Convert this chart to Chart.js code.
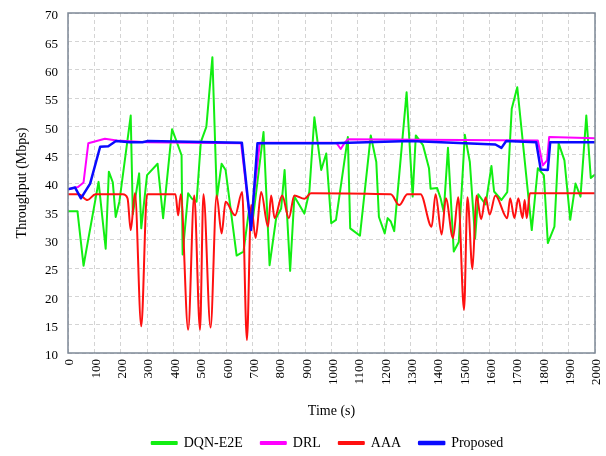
<!DOCTYPE html>
<html>
<head>
<meta charset="utf-8">
<script src="https://cdn.jsdelivr.net/npm/chart.js@4.4.1/dist/chart.umd.min.js"></script>
<style>
  html, body { margin: 0; padding: 0; background: #fff; }
  #wrap { width: 606px; height: 456px; position: relative; }
</style>
</head>
<body>
<div id="wrap"><canvas id="c" width="606" height="456"></canvas></div>
<script>
// Series names
const seriesNames = ['DQN-E2E', 'DRL', 'AAA', 'Proposed'];

// DQN-E2E (green): times (s) and throughput (Mbps)
const dqnTimes = [0, 36, 59, 116, 143, 155, 170, 181, 195, 238, 246, 270, 278, 300, 340, 361, 395, 431, 435, 456, 469, 488, 504, 525, 548, 565, 583, 598, 640, 666, 686, 700, 742, 765, 790, 809, 822, 843, 859, 897, 916, 935, 961, 980, 999, 1017, 1062, 1071, 1108, 1149, 1170, 1180, 1202, 1213, 1225, 1238, 1285, 1308, 1320, 1347, 1370, 1376, 1401, 1414, 1426, 1442, 1464, 1483, 1506, 1525, 1545, 1557, 1585, 1607, 1617, 1645, 1667, 1684, 1705, 1760, 1783, 1806, 1821, 1846, 1862, 1884, 1906, 1926, 1945, 1967, 1984, 2000];
const dqnValues = [35.0, 35.0, 25.4, 40.2, 28.4, 42.0, 40.1, 34.0, 36.7, 51.9, 34.5, 41.7, 32.0, 41.4, 43.4, 33.8, 49.5, 44.9, 27.4, 38.2, 37.3, 36.7, 47.2, 49.9, 62.2, 37.3, 43.4, 42.3, 27.2, 27.9, 34.9, 33.0, 49.0, 25.5, 33.8, 35.5, 42.3, 24.5, 37.6, 34.6, 38.5, 51.6, 42.3, 45.2, 32.9, 33.5, 48.1, 32.0, 30.7, 48.4, 43.7, 34.0, 31.1, 33.8, 33.2, 31.5, 56.0, 37.6, 48.4, 46.7, 42.6, 39.0, 39.1, 37.3, 34.9, 46.2, 27.9, 29.6, 48.5, 43.7, 30.2, 38.0, 36.2, 43.0, 38.5, 37.0, 38.4, 53.1, 56.9, 31.7, 42.6, 41.4, 29.4, 32.3, 47.0, 44.0, 33.5, 39.9, 37.6, 51.9, 40.9, 41.5];

// DRL (magenta)
const drlTimes = [0, 38, 59, 77, 140, 185, 300, 657, 693, 728, 1000, 1020, 1035, 1050, 1062, 1783, 1802, 1818, 1826, 2000];
const drlValues = [38.9, 39.3, 40.1, 47.0, 47.8, 47.5, 47.2, 47.0, 32.5, 47.1, 47.1, 47.0, 46.0, 47.1, 47.7, 47.5, 43.1, 44.0, 48.1, 47.9];

// AAA (red)
const aaaTimes = [0, 40, 74, 104, 208, 226, 238, 254, 278, 300, 408, 418, 428, 456, 479, 501, 514, 541, 564, 583, 598, 634, 661, 679, 695, 712, 733, 759, 771, 784, 813, 838, 859, 897, 922, 1225, 1257, 1288, 1338, 1380, 1395, 1418, 1434, 1461, 1481, 1503, 1516, 1535, 1550, 1568, 1585, 1600, 1622, 1667, 1678, 1694, 1709, 1725, 1733, 1741, 1753, 2000];
const aaaValues = [38.0, 38.0, 37.0, 38.0, 38.0, 37.3, 31.7, 38.2, 14.7, 38.0, 38.0, 34.3, 38.0, 14.1, 37.8, 14.1, 38.0, 14.5, 37.8, 31.1, 36.7, 34.3, 38.4, 12.3, 36.1, 30.3, 38.4, 32.3, 37.8, 33.8, 37.8, 33.8, 37.8, 37.2, 38.2, 38.0, 36.1, 38.0, 38.0, 32.3, 38.0, 30.9, 37.3, 30.3, 37.5, 17.6, 37.5, 24.8, 37.8, 33.6, 37.5, 34.4, 37.8, 33.8, 37.3, 33.8, 37.3, 33.8, 37.0, 33.8, 38.2, 38.2];

// Proposed (blue)
const propTimes = [0, 27, 49, 84, 122, 153, 182, 235, 282, 304, 660, 695, 719, 1000, 1300, 1622, 1645, 1663, 1777, 1794, 1821, 1830, 2000];
const propValues = [38.9, 39.2, 37.3, 39.9, 46.4, 46.5, 47.4, 47.2, 47.2, 47.4, 47.1, 31.7, 47.0, 47.0, 47.4, 46.8, 46.2, 47.4, 47.2, 42.4, 42.3, 47.2, 47.2];

// Axis ticks
const xTickValues = [0, 100, 200, 300, 400, 500, 600, 700, 800, 900, 1000, 1100, 1200, 1300, 1400, 1500, 1600, 1700, 1800, 1900, 2000];
const yTickValues = [10, 15, 20, 25, 30, 35, 40, 45, 50, 55, 60, 65, 70];

const pts = (ts, vs) => ts.map((t, i) => ({ x: t, y: vs[i] }));
const FONT = "'Liberation Serif', 'Times New Roman', serif";

const boxPlugin = {
  id: 'plotBox',
  afterLayout(chart) {
    const lg = chart.legend;
    if (lg) {
      const a = chart.chartArea;
      const shift = (a.left + a.right) / 2 - (lg.left + lg.right) / 2 - 4;
      lg.left += shift; lg.right += shift;
      lg.top += 4; lg.bottom += 4;
    }
  },
  afterDatasetsDraw(chart) {
    const a = chart.chartArea, ctx = chart.ctx;
    ctx.save();
    ctx.strokeStyle = '#7d8896';
    ctx.lineWidth = 1.5;
    ctx.strokeRect(a.left, a.top, a.right - a.left, a.bottom - a.top);
    ctx.restore();
  }
};

function noPad(s) { s.paddingLeft = 0; s.paddingRight = 0; s.paddingTop = 0; s.paddingBottom = 0; }

new Chart(document.getElementById('c'), {
  type: 'line',
  data: {
    datasets: [
      { label: seriesNames[0], data: pts(dqnTimes, dqnValues), borderColor: '#12ee12', backgroundColor: '#12ee12', borderWidth: 2, order: 4, tension: 0 },
      { label: seriesNames[1], data: pts(drlTimes, drlValues), borderColor: '#ff00ff', backgroundColor: '#ff00ff', borderWidth: 2, order: 3, tension: 0 },
      { label: seriesNames[2], data: pts(aaaTimes, aaaValues), borderColor: '#ff1010', backgroundColor: '#ff1010', borderWidth: 2, order: 2, cubicInterpolationMode: 'monotone' },
      { label: seriesNames[3], data: pts(propTimes, propValues), borderColor: '#0a0aff', backgroundColor: '#0a0aff', borderWidth: 2.5, order: 1, tension: 0 }
    ]
  },
  options: {
    responsive: false,
    animation: false,
    devicePixelRatio: 1,
    layout: { padding: { top: 13, right: 11, left: 10, bottom: 0 } },
    elements: { point: { radius: 0, hoverRadius: 0 }, line: { borderJoinStyle: 'round' } },
    plugins: {
      tooltip: { enabled: false },
      legend: {
        position: 'bottom',
        labels: {
          font: { family: FONT, size: 14 },
          color: '#000',
          boxWidth: 25,
          boxHeight: 2,
          padding: 18,
          sort: (a, b) => a.datasetIndex - b.datasetIndex
        }
      }
    },
    scales: {
      x: {
        type: 'linear',
        min: 0, max: 2000,
        afterBuildTicks: (s) => { s.ticks = xTickValues.map(v => ({ value: v })); },
        afterFit: (s) => { s.height = 61; noPad(s); },
        ticks: {
          font: { family: FONT, size: 13 },
          color: '#000',
          minRotation: 90, maxRotation: 90,
          padding: 6,
          labelOffset: 2,
          autoSkip: false,
          callback: (v) => String(v)
        },
        grid: { color: '#d4d4d4', lineWidth: 1, drawTicks: false },
        border: { display: false, dash: [4, 3] },
        title: { display: true, text: 'Time (s)', font: { family: FONT, size: 14 }, color: '#000', padding: { top: 0, bottom: -6 } }
      },
      y: {
        type: 'linear',
        min: 10, max: 70,
        afterBuildTicks: (s) => { s.ticks = yTickValues.map(v => ({ value: v })); },
        afterFit: (s) => { s.width = 58; noPad(s); },
        ticks: {
          font: { family: FONT, size: 13 },
          color: '#000',
          padding: 10,
          labelOffset: 3
        },
        grid: { color: '#d4d4d4', lineWidth: 1, drawTicks: false },
        border: { display: false, dash: [4, 3] },
        title: { display: true, text: 'Throughput (Mbps)', font: { family: FONT, size: 14 }, color: '#000', padding: 4 }
      }
    }
  },
  plugins: [boxPlugin]
});
</script>
</body>
</html>
